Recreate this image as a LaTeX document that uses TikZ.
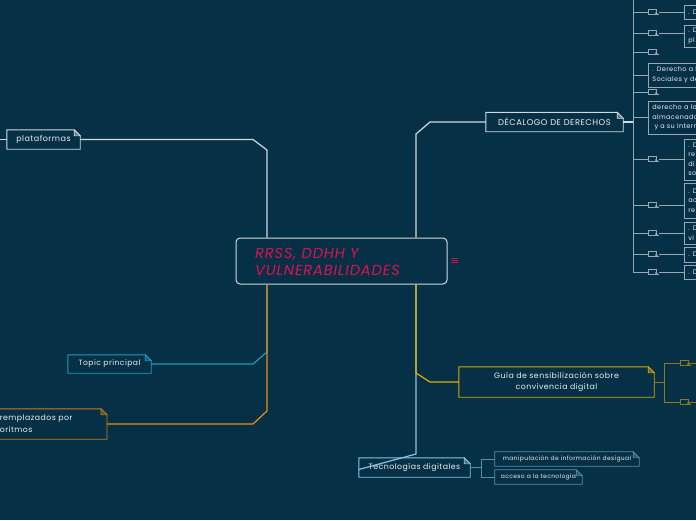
\documentclass[tikz,border=0pt]{standalone}
\usepackage{fontspec}
\setmainfont[LetterSpace=6]{Poppins}
\newfontfamily\symfont{DejaVu Sans}
\definecolor{bg}{RGB}{5,48,70}
\definecolor{wline}{RGB}{210,218,222}
\definecolor{txt}{RGB}{236,240,242}
\definecolor{crim}{RGB}{226,16,78}
\definecolor{teal}{RGB}{30,155,190}
\definecolor{orng}{RGB}{240,140,10}
\definecolor{orngbox}{RGB}{200,125,25}
\definecolor{gold}{RGB}{230,175,0}
\definecolor{goldbox}{RGB}{215,165,10}
\definecolor{olive}{RGB}{140,120,30}
\definecolor{lblue}{RGB}{140,195,225}
\definecolor{lbluebox}{RGB}{90,140,165}
\definecolor{grayb}{RGB}{150,168,180}
\newcommand\dogear[3]{%
  \draw[#2, line width=#3] (#1.south west) -- (#1.north west) -- ([xshift=-6pt]#1.north east) -- ([yshift=-6pt]#1.north east) -- (#1.south east) -- cycle;
  \filldraw[draw=#2, fill=#2!45!bg, line width=0.6pt] ([xshift=-6pt]#1.north east) -- ([xshift=-6pt,yshift=-6pt]#1.north east) -- ([yshift=-6pt]#1.north east) -- cycle;
}
\tikzset{
  tnode/.style={inner sep=0pt, text=txt, align=center},
  rbox/.style={draw=grayb, line width=0.7pt, anchor=west, minimum width=80pt, text width=72pt, inner xsep=4pt, inner ysep=0pt, align=left, text=txt, font=\fontsize{6.5}{9.5}\selectfont},
  icon/.style={draw=grayb, line width=0.7pt, minimum width=8pt, minimum height=5pt, inner sep=0pt},
  gicon/.style={draw=olive, line width=0.8pt, minimum width=8pt, minimum height=5pt, inner sep=0pt},
  rl/.style={grayb, line width=0.7pt},
}
\begin{document}
\begin{tikzpicture}[x=1pt,y=-1pt]
\fill[bg] (0,0) rectangle (696,520);
\useasboundingbox (0,0) rectangle (696,520);

% central node
\node[draw=wline, line width=1pt, rounded corners=4pt, minimum width=211pt, minimum height=46pt, inner sep=0pt] (cent) at (341.5,261) {};
\node[anchor=west, text=crim, align=left, inner sep=0pt, font=\itshape\fontsize{14.6}{17}\selectfont] (ctext) at (255,262) {RRSS, DDHH Y\\VULNERABILIDADES};
\node[text=crim, inner sep=0pt, font=\symfont\fontsize{11}{11}\selectfont] (menu) at (455,262) {≡};

% left nodes
\node[tnode, minimum width=73pt, minimum height=19pt, font=\fontsize{8}{9}\selectfont] (plat) at (43.5,139.5) {plataformas};
\dogear{plat}{wline}{0.9pt}
\node[tnode, minimum width=83pt, minimum height=18pt, font=\fontsize{7.6}{9}\selectfont] (topic) at (109.5,364) {Topic principal};
\dogear{topic}{teal}{0.9pt}
\node[tnode, anchor=east, text width=104pt, inner xsep=3pt, minimum height=30pt, align=left, font=\fontsize{7.8}{12}\selectfont] (remp) at (107,424) {remplazados por\\oritmos};
\dogear{remp}{orngbox}{0.9pt}

\draw[wline, line width=1.2pt] (plat.east) -- (253,139.5) -- (267,150) -- (cent.north -| 267,0);
\draw[wline, line width=0.9pt] (plat.west) -- (0,139.5);
\draw[teal, line width=1.2pt] (topic.east) -- (253,364) -- (267,352) -- (cent.south -| 267,0);
\draw[orng, line width=1.2pt] (remp.east) -- (253,424) -- (267,411) -- (cent.south -| 267,0);

% DECALOGO
\node[tnode, minimum width=137pt, minimum height=19pt, font=\fontsize{8.4}{9}\selectfont] (dec) at (554.5,122) {DÉCALOGO DE DERECHOS};
\dogear{dec}{wline}{0.9pt}
\draw[wline, line width=1.2pt] (dec.west) -- (430,122) -- (416,134) -- (cent.north -| 416,0);
\coordinate (tr) at (633,122);
\draw[wline, line width=1.2pt] (dec.east) -- (tr);
\draw[rl] (633,-5) -- (633,272);

% right children
\node[rbox, minimum height=14pt] (r1) at (684,12) {. D};
\node[rbox, minimum height=22pt] (r2) at (684,36) {. D\\pl};
\node[rbox, minimum height=24pt] (r3) at (648,75) {. Derecho a l\\Sociales y de};
\node[rbox, minimum height=33pt] (r4) at (648,117.5) {derecho a la\\almacenados\\\ y a su Intern};
\node[rbox, minimum height=41pt] (r5) at (684,159.5) {. D\\re\\di\\so};
\node[rbox, minimum height=35pt] (r6) at (684,200.5) {. D\\ac\\re};
\node[rbox, minimum height=22pt] (r7) at (684,233) {. D\\vi};
\node[rbox, minimum height=15pt] (r8) at (684,254.5) {. D};
\node[rbox, minimum height=14pt] (r9) at (684,272) {. D};

\foreach \n/\yy in {i1/12,i2/33,i3/52,i4/92,i5/159,i6/205,i7/233,i8/254,i9/272}{
  \node[icon] (\n) at (652,\yy) {};
  \fill[grayb] ([xshift=-1pt]\n.south east) -- ([xshift=3pt]\n.south east) -- ([xshift=-1pt,yshift=3pt]\n.south east) -- cycle;
  \draw[rl] (633,\yy) -- (\n.west);
}
\foreach \n/\r in {i1/r1,i2/r2,i5/r5,i6/r6,i7/r7,i8/r8,i9/r9}{
  \draw[rl] ([xshift=3pt]\n.east) -- (\n.east -| \r.west);
}
\draw[rl] (633,75) -- (r3.west);
\draw[rl] (633,117.5) -- (r4.west);

% Guia
\node[tnode, minimum width=195pt, minimum height=30pt, font=\fontsize{7.8}{11}\selectfont] (guia) at (556.5,382) {Guía de sensibilización sobre\\convivencia digital};
\dogear{guia}{goldbox}{0.9pt}
\node[gicon] (g1) at (684,363) {};
\node[gicon] (g2) at (684,402) {};
\draw[olive, line width=0.9pt] (guia.east) -- (664,382);
\draw[olive, line width=0.9pt] (g1.west) -- (664,363) -- (664,402) -- (g2.west);
\draw[olive, line width=0.9pt] (g1.east) -- (700,363);
\draw[olive, line width=0.9pt] (g2.east) -- (700,402);
\fill[olive] ([xshift=-1pt]g1.south east) -- ([xshift=3pt]g1.south east) -- ([xshift=-1pt,yshift=3pt]g1.south east) -- cycle;
\fill[olive] ([xshift=-1pt]g2.south east) -- ([xshift=3pt]g2.south east) -- ([xshift=-1pt,yshift=3pt]g2.south east) -- cycle;

% Tecnologias
\node[tnode, minimum width=111pt, minimum height=19pt, font=\fontsize{7.8}{9}\selectfont] (tec) at (414.5,467.5) {Tecnologías digitales};
\dogear{tec}{lblue}{0.9pt}
\draw[lblue, line width=1.2pt] (cent.south -| 416,0) -- (416,454) -- ([yshift=-2pt]tec.west);
\draw[gold, line width=1.2pt] (cent.south -| 416,0) -- (416,373) -- (430,382) -- (guia.west);

\node[tnode, minimum width=144pt, minimum height=14pt, font=\fontsize{6.0}{7}\selectfont] (man) at (567,459) {manipulación de información desigual};
\dogear{man}{lbluebox}{0.8pt}
\node[tnode, minimum width=87pt, minimum height=14pt, font=\fontsize{6.0}{7}\selectfont] (acc) at (538.5,477) {acceso a la tecnología};
\dogear{acc}{lbluebox}{0.8pt}
\draw[lbluebox, line width=0.8pt] (tec.east) -- (481,467.5);
\draw[lbluebox, line width=0.8pt] (man.west) -- (481,459) -- (481,477) -- (acc.west);
\end{tikzpicture}
\end{document}
